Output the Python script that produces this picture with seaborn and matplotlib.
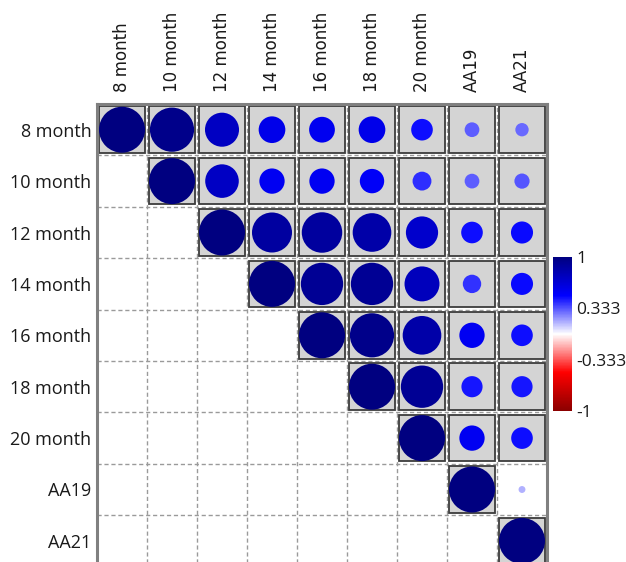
import numpy as np
import pandas as pd
import matplotlib
matplotlib.use("Agg")
import matplotlib.pyplot as plt
from matplotlib.patches import Rectangle
from matplotlib.colors import LinearSegmentedColormap, Normalize
from matplotlib.cm import ScalarMappable
import seaborn as sns

sns.set_theme(style="white")

# Variables (rows and columns of the correlation matrix)
labels = ["8 month", "10 month", "12 month", "14 month", "16 month",
          "18 month", "20 month", "AA19", "AA21"]

# Upper-triangle correlations, one list per row (starting at the diagonal)
r_8m = [1.00, 0.96, 0.74, 0.58, 0.56, 0.58, 0.47, 0.32, 0.29]
r_10m = [1.00, 0.73, 0.55, 0.55, 0.53, 0.41, 0.32, 0.33]
r_12m = [1.00, 0.87, 0.88, 0.84, 0.70, 0.47, 0.48]
r_14m = [1.00, 0.92, 0.92, 0.76, 0.40, 0.48]
r_16m = [1.00, 0.96, 0.84, 0.55, 0.47]
r_18m = [1.00, 0.92, 0.46, 0.46]
r_20m = [1.00, 0.55, 0.47]
r_aa19 = [1.00, 0.15]
r_aa21 = [1.00]
rows = [r_8m, r_10m, r_12m, r_14m, r_16m, r_18m, r_20m, r_aa19, r_aa21]

# Pairs whose correlation is not significant (drawn without the grey box)
not_significant = [("AA19", "AA21")]

cbar_ticks = [1, 0.333, -0.333, -1]
cbar_ticklabels = ["1", "0.333", "-0.333", "-1"]

records = []
for i, vals in enumerate(rows):
    for k, v in enumerate(vals):
        j = i + k
        records.append({"row": labels[i], "col": labels[j], "x": j, "y": i,
                        "r": v, "area": v ** 2,
                        "sig": (labels[i], labels[j]) not in not_significant})
df = pd.DataFrame(records)

cmap = LinearSegmentedColormap.from_list(
    "corr", [(0.0, "#8b0000"), (0.25, "#ff0000"), (0.5, "#ffffff"),
             (0.75, "#0000ff"), (1.0, "#000080")])
norm = Normalize(-1, 1)

W, H = 626, 562
fig = plt.figure(figsize=(W / 100, H / 100), dpi=100)
n = len(labels)
cell_h = 51.4
ax_h = n * cell_h
ax = fig.add_axes([97 / W, (H - 104 - ax_h) / H, 450 / W, ax_h / H])

# dashed cell grid
for k in range(1, n):
    ax.axvline(k - 0.5, color="#9a9a9a", lw=1.0, ls=(0, (3, 2)), zorder=1)
    ax.axhline(k - 0.5, color="#9a9a9a", lw=1.0, ls=(0, (3, 2)), zorder=1)

# grey boxes behind significant correlations
pad_x, pad_y = 0.045, 0.045
for _, rec in df[df["sig"]].iterrows():
    ax.add_patch(Rectangle((rec["x"] - 0.5 + pad_x, rec["y"] - 0.5 + pad_y),
                           1 - 2 * pad_x, 1 - 2 * pad_y,
                           facecolor="#d4d4d4", edgecolor="#3c3c3c",
                           lw=1.3, zorder=2))

# circles: diameter proportional to |r|, colour from r
max_d_pt = 46 * 0.72
sns.scatterplot(data=df, x="x", y="y", hue="r", palette=cmap, hue_norm=(-1, 1),
                size="area", sizes=(0, max_d_pt ** 2), size_norm=(0, 1),
                linewidth=0, legend=False, ax=ax, zorder=3)

ax.set_xlim(-0.5, n - 0.5)
ax.set_ylim(n - 0.5, -0.5)
ax.set_xlabel("")
ax.set_ylabel("")
ax.set_xticks(range(n))
ax.set_yticks(range(n))
ax.xaxis.tick_top()
ax.set_xticklabels(labels, rotation=90, fontsize=12, family="DejaVu Sans",
                   color="#1a1a1a")
ax.set_yticklabels(labels, fontsize=13, family="Open Sans", color="#1a1a1a")
ax.tick_params(axis="x", length=0, pad=8.5)
ax.tick_params(axis="y", length=0, pad=4)
for s in ax.spines.values():
    s.set_color("#808080")
    s.set_linewidth(2.2)

# colour bar
cax = fig.add_axes([553 / W, (H - 411) / H, 19 / W, 154 / H])
cb = fig.colorbar(ScalarMappable(norm=norm, cmap=cmap), cax=cax)
cb.outline.set_visible(False)
cb.set_ticks(cbar_ticks)
cb.set_ticklabels(cbar_ticklabels)
cax.tick_params(length=0, pad=3, labelsize=12.5, labelcolor="#1a1a1a")
for t in cax.get_yticklabels():
    t.set_family("Open Sans")

fig.savefig("out.png", dpi=100)
